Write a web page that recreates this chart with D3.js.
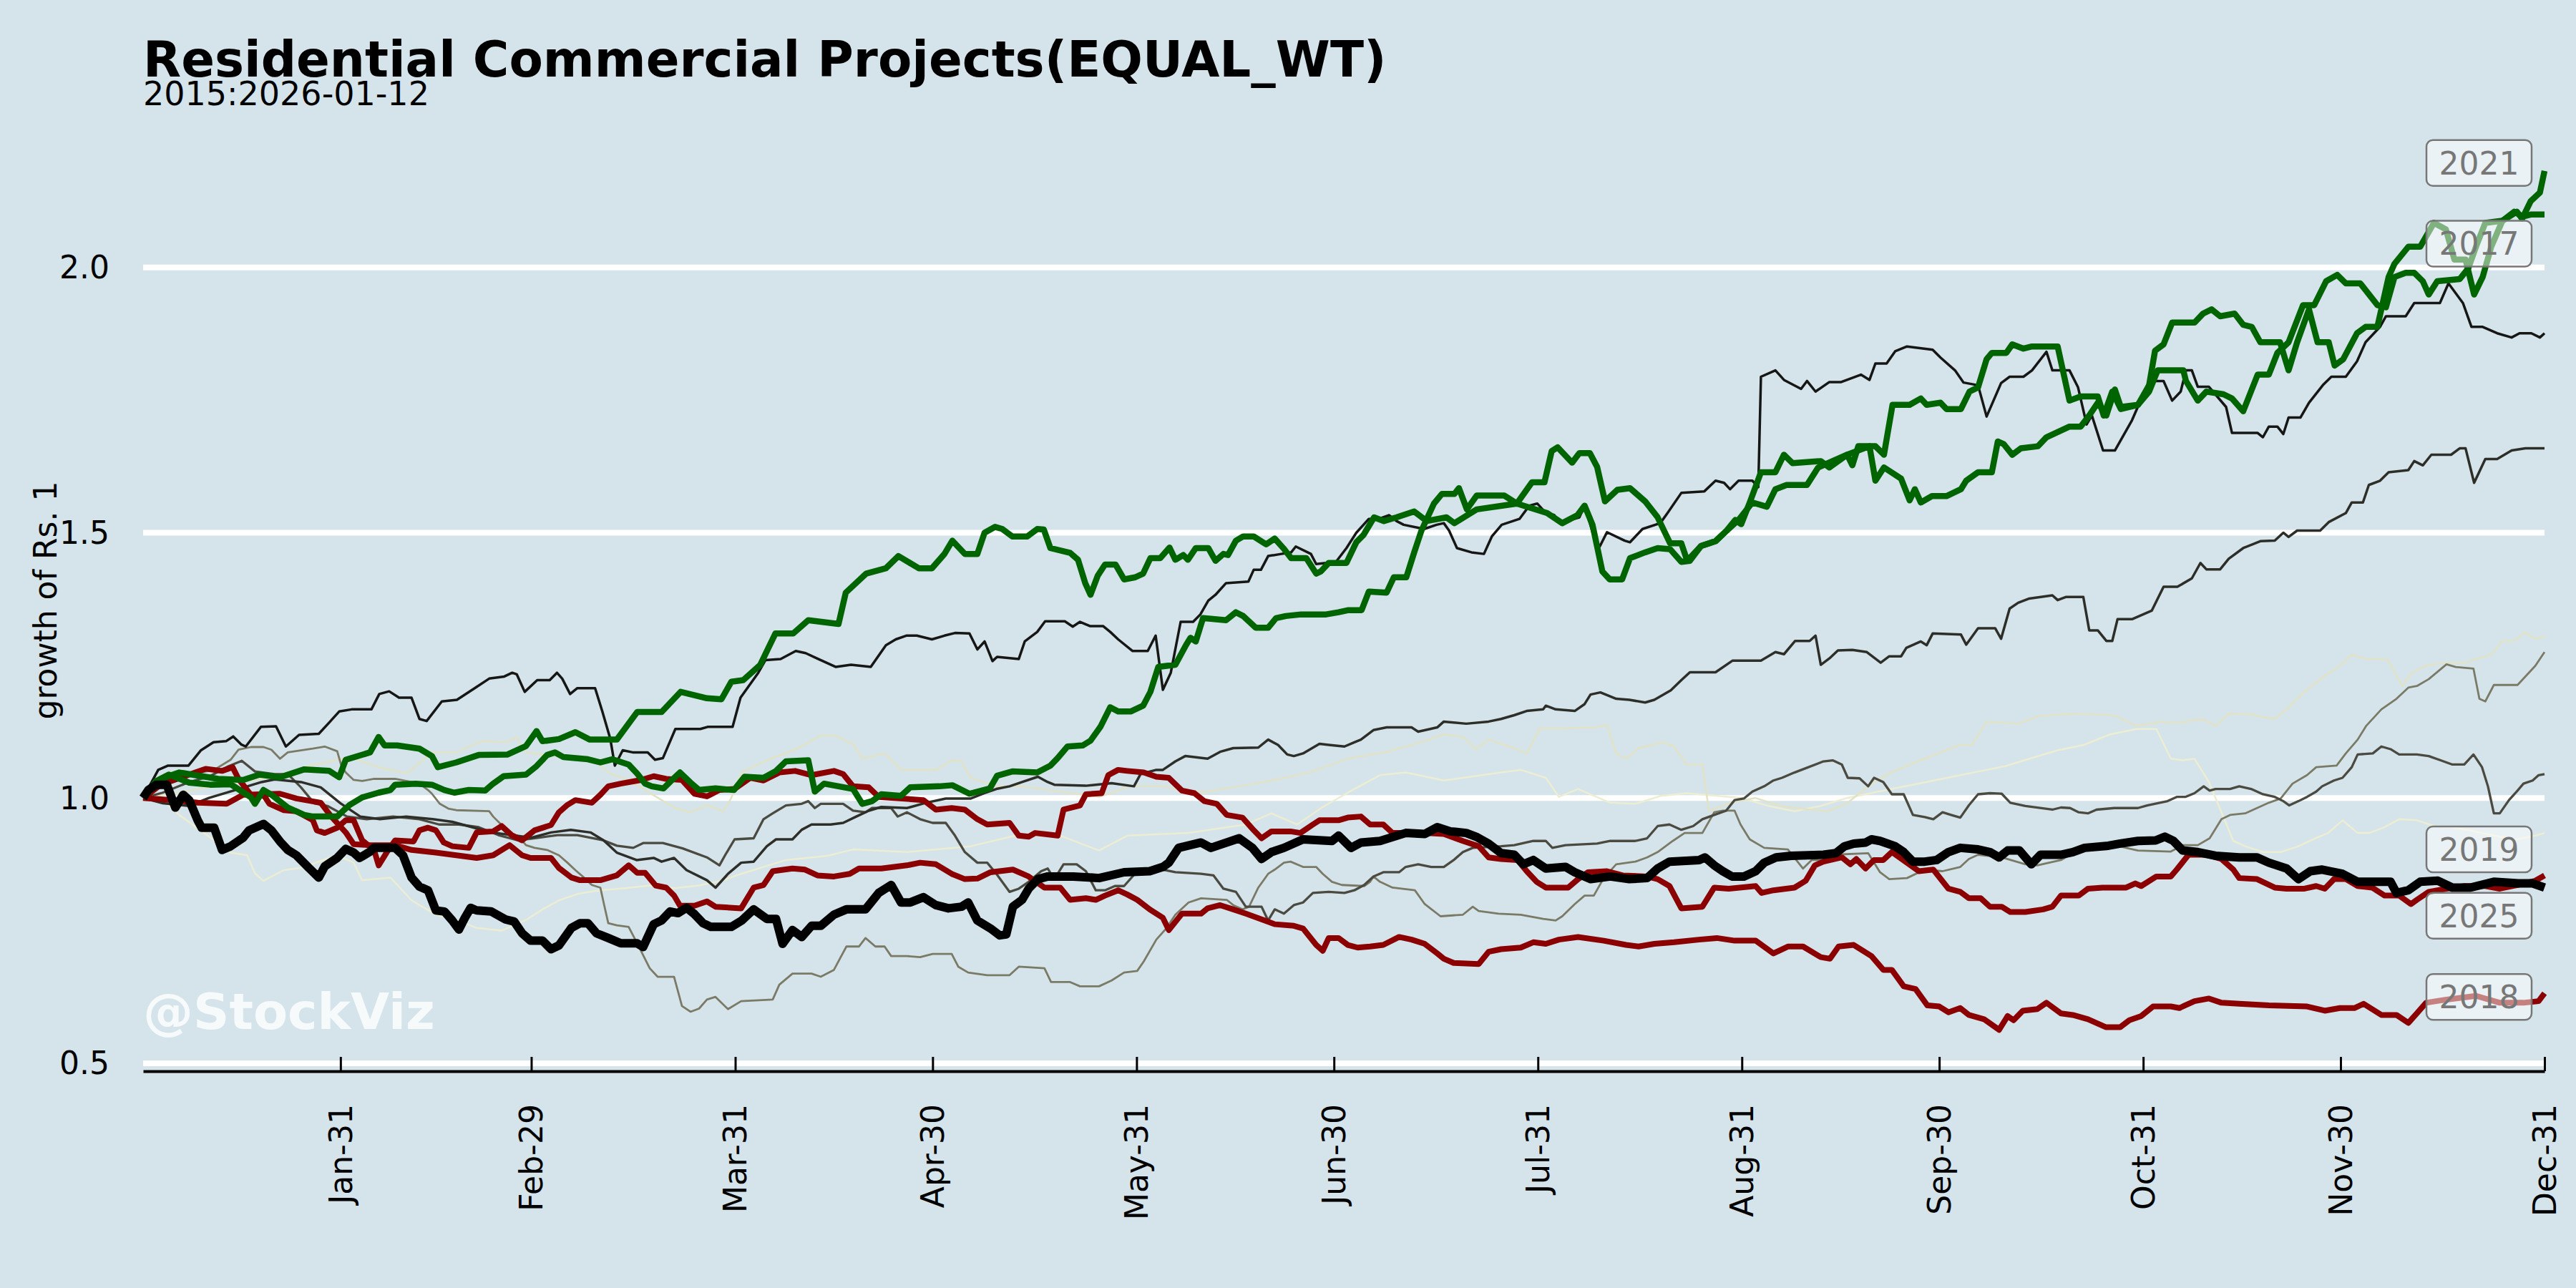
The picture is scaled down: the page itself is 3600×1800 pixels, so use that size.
<!DOCTYPE html>
<html>
<head>
<meta charset="utf-8">
<script src="https://cdn.jsdelivr.net/npm/d3@7"></script>
<style>
body{margin:0;background:#d5e4eb;}
svg{display:block;font-family:"DejaVu Sans",sans-serif;}
</style>
</head>
<body>
<svg id="chart"></svg>
<script>
// x = day of year (0 = Jan-1), value = growth of Rs. 1
var tickDays=[30,59,90,120,151,181,212,243,273,304,334,365];
var tickLabels=["Jan-31","Feb-29","Mar-31","Apr-30","May-31","Jun-30","Jul-31","Aug-31","Sep-30","Oct-31","Nov-30","Dec-31"];
var yTicks=[0.5,1.0,1.5,2.0];

var y2015=[[0,1.0],[2,1.006],[5.5,0.968],[10.8,0.92],[13.3,0.897],[15.8,0.892],[17,0.858],[18.3,0.844],[21.4,0.864],[23.9,0.868],[29.5,0.892],[32,0.878],[33.3,0.845],[37.6,0.85],[40.8,0.807],[44.5,0.78],[47.6,0.77],[50.7,0.755],[54.5,0.75],[58.2,0.77],[60.7,0.79],[63.2,0.807],[66.3,0.82],[69.5,0.826],[73.2,0.83],[77,0.835],[80.7,0.83],[84.5,0.835],[88.2,0.845],[90.9,0.857],[97.7,0.883],[104,0.891],[107.9,0.903],[116.1,0.898],[125.8,0.909],[132.6,0.929],[139.4,0.929],[145.3,0.901],[149.6,0.929],[158.9,0.934],[167.6,0.95],[171.5,0.971],[175.4,0.95],[179.3,0.983],[184.1,1.017],[188,1.043],[191.9,1.048],[197.7,1.033],[206.4,1.048],[209.4,1.053],[213.2,1.038],[215.2,1.002],[218.1,1.017],[223,0.991],[226.8,0.989],[230.7,1.004],[234.6,1.009],[239.3,1.004],[243,1.0],[247,0.985],[251,0.975],[255,0.985],[259,1.0],[263,1.01],[267,1.02],[271,1.03],[275,1.04],[279,1.05],[283,1.06],[287,1.075],[291,1.09],[295,1.1],[299,1.12],[303,1.13],[306,1.13],[308.2,1.074],[310,1.071],[311.8,1.074],[314,1.03],[316,0.97],[317.7,0.919],[319.5,0.909],[322.2,0.898],[324.9,0.898],[327.6,0.909],[329.8,0.922],[332.1,0.934],[334.3,0.958],[336.6,0.934],[338.4,0.934],[340.7,0.945],[342.9,0.96],[345.6,0.958],[348.3,0.947],[351,0.945],[353.3,0.94],[355.5,0.934],[358.2,0.927],[360.9,0.922],[363.6,0.929],[365,0.934]];

var y2016=[[0,1.0],[5,1.01],[10,1.02],[15,1.03],[20,1.04],[25,1.06],[31.4,1.077],[35.8,1.058],[40.1,1.046],[43.9,1.086],[47.6,1.086],[51.4,1.107],[55.4,1.105],[56.7,1.115],[58.2,1.086],[61.4,1.081],[68.2,1.072],[71.3,1.044],[73.8,1.034],[78.8,0.996],[80.7,0.982],[83.2,0.973],[85.7,0.987],[88.2,0.975],[89.4,1.0],[90.9,1.048],[94.8,1.071],[99.6,1.094],[103,1.118],[105,1.118],[107.9,1.102],[109.3,1.074],[112.7,1.084],[115.2,1.053],[120.5,1.053],[122.9,1.071],[124.4,1.069],[125.8,1.038],[129.7,1.022],[133.6,1.022],[139.4,1.012],[145.3,1.002],[150.1,1.022],[155,1.022],[158.9,1.012],[161.8,1.012],[166.6,1.022],[171.5,1.033],[177.3,1.048],[183.1,1.074],[189,1.087],[194.8,1.107],[197.7,1.12],[200.6,1.115],[202.6,1.092],[204.5,1.11],[208.4,1.094],[210.3,1.084],[212.3,1.131],[215.2,1.131],[221,1.133],[222.5,1.138],[223.9,1.084],[225.4,1.074],[227.3,1.094],[231.1,1.105],[232.7,1.097],[234.6,1.063],[237,1.063],[238,0.976],[241,0.99],[245,1.0],[249,0.985],[252,0.98],[256,0.975],[259,0.99],[262.7,1.027],[266,1.05],[269,1.065],[272,1.08],[276,1.1],[278,1.1],[280.2,1.144],[285,1.14],[288,1.154],[293,1.159],[299.6,1.156],[303,1.136],[306.8,1.144],[309,1.141],[313,1.149],[315,1.136],[317,1.159],[320,1.158],[324,1.149],[325.8,1.167],[328.5,1.2],[331,1.225],[333.9,1.249],[335.7,1.27],[338,1.262],[341.1,1.262],[343.4,1.211],[344.7,1.234],[347,1.25],[350,1.255],[353,1.255],[357,1.271],[358.6,1.296],[360.4,1.296],[362,1.312],[363.6,1.3],[365,1.304]];

var y2017=[[0,1.0],[2,1.032],[3.9,1.044],[7,1.029],[10.2,1.025],[13.3,1.026],[16.4,1.001],[17,0.989],[18.3,1.015],[19.5,1.006],[22,0.982],[24.5,0.968],[25.8,0.965],[29.5,0.965],[30.5,0.977],[31.4,0.987],[33.3,1.001],[35.8,1.01],[37.6,1.015],[38.3,1.025],[41.4,1.027],[43.9,1.025],[45.8,1.015],[47.3,1.01],[49.5,1.015],[52,1.014],[53.2,1.027],[54.8,1.041],[58.2,1.044],[59.8,1.06],[61.4,1.081],[62.6,1.086],[63.9,1.077],[67.6,1.073],[69.5,1.067],[71.3,1.073],[73.8,1.063],[75.1,1.046],[76.3,1.027],[77.3,1.022],[79.1,1.018],[80.4,1.034],[81.6,1.048],[83.2,1.029],[84.5,1.015],[87,1.018],[89.8,1.015],[91.4,1.04],[94.3,1.038],[96.2,1.051],[97.7,1.069],[101.1,1.071],[102.1,1.012],[103.5,1.027],[107.9,1.017],[109.3,0.989],[110.8,0.994],[112.2,1.007],[115.2,1.004],[116.6,1.02],[121,1.022],[123,1.024],[125.6,1.008],[128.7,1.018],[129.8,1.042],[132.1,1.05],[135.9,1.048],[137.9,1.061],[139,1.075],[140.5,1.097],[142.8,1.099],[144,1.108],[145.5,1.134],[147,1.171],[148.2,1.163],[150.1,1.163],[152,1.174],[153.1,1.2],[154.3,1.247],[156.9,1.251],[158.5,1.288],[159.2,1.302],[160,1.295],[161.1,1.339],[164.6,1.335],[166.1,1.35],[167.2,1.343],[169.1,1.321],[171,1.321],[172.2,1.339],[173.7,1.343],[176,1.346],[179.8,1.346],[181.7,1.35],[183.2,1.354],[185.2,1.354],[186.3,1.389],[189,1.387],[190.1,1.416],[192,1.416],[193.2,1.463],[194.3,1.504],[196.2,1.555],[197.4,1.573],[199.3,1.573],[200,1.584],[201.2,1.544],[202.7,1.57],[206.9,1.57],[208.8,1.555],[211.1,1.595],[213,1.595],[214.1,1.654],[215,1.661],[217.2,1.632],[218.3,1.65],[219.9,1.65],[221,1.624],[222.2,1.559],[224.1,1.581],[226,1.584],[228.3,1.559],[230.2,1.529],[232.1,1.48],[233.8,1.48],[234.7,1.447],[236.8,1.475],[239,1.484],[240.7,1.504],[242,1.524],[242.9,1.516],[244.2,1.557],[245.9,1.614],[248.1,1.614],[249.4,1.647],[250.7,1.631],[255,1.635],[256.3,1.623],[259,1.647],[259.8,1.627],[260.7,1.663],[263.3,1.663],[264.6,1.647],[265.9,1.741],[268.5,1.741],[270.2,1.753],[271.1,1.741],[273.2,1.745],[274.1,1.733],[276.3,1.733],[277.6,1.766],[278.9,1.774],[280.2,1.827],[281,1.839],[283.2,1.839],[284.1,1.855],[285.8,1.847],[287.1,1.851],[291,1.851],[292.8,1.749],[294.5,1.757],[297.1,1.757],[298,1.721],[299.3,1.766],[300.6,1.733],[303.2,1.741],[304.9,1.766],[306.2,1.806],[310.1,1.806],[310.5,1.786],[312.3,1.749],[313.6,1.766],[316.2,1.761],[317.5,1.753],[319.2,1.729],[321.4,1.798],[323.1,1.798],[324.4,1.839],[326.1,1.859],[328.3,1.929],[330,1.929],[331.8,1.974],[333.5,1.986],[334.8,1.97],[337,1.97],[339.6,1.929],[340.9,1.925],[342.2,1.982],[343.9,1.99],[345.2,1.99],[346.5,1.974],[347.4,1.949],[348.7,1.974],[352.1,1.978],[353.4,1.998],[354.7,2.043],[356,2.084],[358.6,2.088],[360.4,2.105],[361.7,2.096],[363,2.1],[365,2.1]];

var y2018=[[0,1.0],[4.6,0.996],[8.3,0.991],[12.7,0.989],[15.2,1.006],[20.8,1.008],[23.3,0.999],[27,0.991],[28.6,0.965],[30.8,0.935],[32,0.913],[34.5,0.911],[38.3,0.911],[40.8,0.902],[44.5,0.897],[47.6,0.892],[50.7,0.887],[53.2,0.892],[55.7,0.911],[57.6,0.892],[58.9,0.887],[62,0.887],[63.2,0.868],[65.1,0.85],[66.4,0.845],[69.5,0.845],[72,0.854],[73.8,0.873],[75.1,0.859],[76.3,0.859],[77.9,0.835],[79.5,0.831],[80.7,0.816],[81.6,0.797],[83.8,0.797],[85.7,0.805],[87,0.795],[90.9,0.792],[92.8,0.831],[94.3,0.836],[95.7,0.862],[98.7,0.867],[100.6,0.865],[102.5,0.854],[105,0.852],[107.4,0.857],[108.8,0.867],[112.2,0.867],[116.1,0.873],[118.1,0.878],[120.5,0.875],[122.9,0.857],[124.9,0.847],[126.8,0.848],[128.8,0.86],[132.2,0.865],[134.6,0.852],[137,0.831],[139.4,0.831],[140.9,0.808],[143.3,0.811],[144.8,0.808],[146.2,0.816],[148.2,0.826],[149.6,0.818],[151.1,0.808],[153,0.79],[155,0.774],[155.9,0.751],[157.9,0.782],[160.8,0.782],[161.8,0.792],[163.7,0.798],[165.7,0.79],[167.6,0.782],[170.5,0.769],[172,0.762],[174.9,0.759],[176.3,0.754],[178.3,0.723],[179.3,0.712],[180.2,0.736],[181.7,0.736],[183.1,0.723],[184.6,0.718],[186.5,0.72],[188.5,0.723],[190.9,0.738],[192.8,0.733],[194.8,0.725],[196.7,0.707],[197.7,0.697],[199.2,0.689],[203,0.687],[204.5,0.71],[206.4,0.715],[209.4,0.718],[211.3,0.728],[213.2,0.725],[215.2,0.733],[218.1,0.738],[222,0.731],[225.4,0.723],[227.3,0.72],[229.7,0.725],[232.7,0.728],[236.5,0.733],[239.2,0.736],[241.9,0.731],[245.1,0.731],[247.8,0.707],[250,0.72],[252.3,0.72],[255,0.7],[256.4,0.697],[257.7,0.72],[260,0.723],[262.7,0.702],[264.5,0.676],[265.8,0.676],[267.6,0.645],[269.4,0.64],[271.2,0.609],[273,0.607],[274.4,0.596],[276.2,0.604],[277.5,0.591],[279.8,0.583],[282.1,0.563],[283.4,0.589],[284.3,0.581],[285.7,0.599],[287.9,0.602],[289.3,0.614],[291.5,0.594],[293.3,0.591],[295.6,0.583],[298.3,0.568],[300.5,0.568],[301.9,0.581],[303.7,0.589],[305.5,0.607],[308.2,0.607],[309.5,0.604],[311.8,0.617],[314,0.622],[315.9,0.614],[318.6,0.612],[323.1,0.609],[328.9,0.607],[331.6,0.599],[333.9,0.604],[336.1,0.604],[337.5,0.612],[340.2,0.591],[342.5,0.591],[344.3,0.576],[345.6,0.594],[347,0.614],[350.1,0.62],[354.6,0.627],[358.2,0.614],[361.8,0.614],[364.1,0.617],[365,0.632]];

var y2019=[[0,1.0],[2.7,1.025],[7,1.044],[9.5,1.055],[12,1.051],[13.6,1.058],[14.5,1.036],[15.8,1.015],[16.7,1.001],[18.3,1.006],[19.2,0.989],[21.4,0.977],[23.3,0.975],[25.8,0.958],[26.4,0.939],[27.6,0.934],[29.5,0.944],[30.8,0.958],[32,0.958],[33.3,0.92],[35.1,0.902],[35.8,0.873],[37,0.897],[38.3,0.92],[41.1,0.918],[42,0.939],[43.3,0.944],[44.5,0.939],[45.7,0.916],[47,0.909],[49.5,0.906],[50.7,0.935],[53.2,0.937],[54.5,0.947],[56,0.93],[57.6,0.92],[59.5,0.939],[62,0.949],[63.2,0.973],[64.5,0.987],[65.7,0.996],[68.2,0.991],[69.5,1.006],[70.7,1.022],[72.6,1.027],[75.7,1.034],[77.6,1.041],[79.5,1.036],[81.9,1.034],[83.8,1.008],[85.7,1.003],[87.6,1.015],[89.9,1.017],[92.3,1.038],[94.3,1.033],[96.7,1.048],[99.1,1.051],[101.6,1.043],[105,1.051],[106.4,1.045],[107.9,1.022],[110.3,1.02],[111.8,1.002],[118.6,0.996],[120.5,0.978],[122.9,0.981],[124.9,0.978],[126.8,0.96],[128.3,0.95],[131.7,0.953],[133.1,0.929],[134.6,0.927],[135.6,0.934],[139,0.929],[139.9,0.978],[142.4,0.986],[143.3,1.007],[145.7,1.009],[146.7,1.043],[148.2,1.053],[149.6,1.051],[152.1,1.048],[154,1.04],[155.9,1.038],[157.9,1.014],[159.8,1.009],[161.3,0.994],[163.2,0.989],[164.7,0.968],[167.1,0.963],[168.6,0.942],[170,0.924],[171.5,0.937],[174.4,0.937],[175.9,0.934],[177.8,0.95],[178.8,0.958],[181.7,0.958],[183.1,0.963],[185.1,0.965],[186.5,0.95],[188.5,0.95],[189.9,0.934],[194.8,0.934],[197.7,0.932],[200.6,0.919],[203,0.909],[204.5,0.888],[206.4,0.885],[208.9,0.883],[210.3,0.862],[211.8,0.842],[213.2,0.831],[216.6,0.831],[218.1,0.847],[219.6,0.86],[222.5,0.862],[224.9,0.854],[228.6,0.852],[230.2,0.847],[232,0.834],[233.8,0.792],[237,0.795],[238.8,0.831],[241,0.829],[245.1,0.834],[246,0.821],[247.8,0.826],[251,0.831],[252.7,0.844],[254.1,0.873],[255.4,0.88],[258.2,0.888],[259.5,0.875],[260.4,0.885],[261.8,0.867],[263.1,0.883],[264.5,0.883],[265.8,0.898],[268.1,0.878],[269.9,0.862],[272.1,0.865],[274.4,0.829],[276.2,0.823],[277.5,0.811],[279.3,0.811],[280.7,0.795],[282.5,0.795],[283.8,0.785],[286.1,0.785],[288.8,0.79],[290.2,0.795],[291.5,0.816],[294.2,0.816],[295.6,0.829],[297.8,0.831],[301.4,0.831],[302.8,0.839],[303.7,0.834],[306,0.852],[308.2,0.852],[309.1,0.865],[310.9,0.893],[313.6,0.893],[315.9,0.885],[317.7,0.865],[318.6,0.849],[321.3,0.847],[324,0.831],[325.8,0.829],[328.5,0.829],[330.3,0.834],[331.6,0.829],[333,0.847],[334.8,0.847],[336.6,0.834],[338.8,0.831],[340.7,0.816],[342.9,0.816],[344.7,0.8],[345.6,0.808],[347.4,0.823],[350.1,0.829],[352.8,0.834],[356,0.834],[358.2,0.829],[360.9,0.836],[363.6,0.844],[365,0.854]];

var y2020=[[0,1.0],[3.3,1.034],[7,1.044],[10.8,1.053],[13.3,1.072],[14.5,1.091],[16.4,1.096],[18.3,1.096],[19.5,1.091],[20.8,1.074],[22,1.086],[25.8,1.093],[27.6,1.097],[29.5,1.088],[30.1,1.062],[30.8,1.048],[32,1.034],[33.3,1.032],[35.1,1.036],[38.3,1.036],[40.8,1.03],[42,1.027],[43.3,1.015],[43.9,1.008],[45.1,0.989],[46.4,0.98],[47.6,0.977],[52.6,0.975],[53.2,0.965],[54.5,0.949],[55.7,0.935],[57,0.928],[58.2,0.911],[59.5,0.906],[61.4,0.902],[63.2,0.892],[64.5,0.878],[65.7,0.864],[67,0.85],[68.2,0.836],[69.5,0.831],[70.1,0.797],[70.7,0.764],[72,0.76],[73.8,0.757],[75.1,0.726],[77,0.679],[78.2,0.663],[80.7,0.663],[81.9,0.608],[83.2,0.597],[84.5,0.603],[85.7,0.62],[87,0.625],[88.9,0.602],[90.9,0.617],[95.7,0.62],[96.7,0.648],[98.7,0.669],[101.6,0.669],[103,0.663],[105,0.676],[105.9,0.697],[106.9,0.72],[108.8,0.72],[109.8,0.736],[111.3,0.72],[112.7,0.72],[113.7,0.702],[116.1,0.702],[118.1,0.7],[120,0.706],[122.9,0.706],[123.9,0.682],[125.4,0.671],[128.3,0.666],[131.7,0.666],[133.1,0.682],[137,0.679],[138,0.653],[140.9,0.653],[142.4,0.645],[145.3,0.645],[147.2,0.656],[149.1,0.671],[151.1,0.674],[152.1,0.692],[154,0.733],[155.5,0.754],[156.9,0.78],[158.9,0.803],[160.8,0.811],[164.7,0.808],[165.7,0.798],[167.1,0.79],[168.1,0.795],[169.5,0.831],[171,0.857],[172,0.865],[173.4,0.878],[174.4,0.88],[176.3,0.87],[178.3,0.87],[179.3,0.857],[180.7,0.842],[182.2,0.836],[185.6,0.834],[186.5,0.842],[187,0.852],[188,0.842],[189.9,0.831],[193.3,0.826],[194.8,0.8],[197.2,0.777],[200.6,0.78],[202.1,0.795],[203,0.787],[206,0.782],[209.4,0.78],[212.8,0.772],[214.7,0.769],[215.7,0.777],[217.6,0.8],[219.1,0.816],[220.5,0.816],[222,0.849],[223.9,0.875],[226.8,0.88],[228.6,0.888],[230.2,0.898],[232.5,0.919],[234.3,0.934],[237,0.934],[238.8,0.973],[240.1,0.976],[241.9,0.976],[242.8,0.95],[244.2,0.922],[246.4,0.906],[250,0.903],[252.3,0.867],[253.6,0.883],[255.4,0.883],[256.8,0.893],[262.2,0.896],[264,0.86],[265.4,0.847],[268.1,0.849],[270.8,0.865],[273.5,0.862],[276.2,0.87],[277.5,0.885],[278.9,0.893],[282.5,0.888],[286.1,0.875],[287.9,0.873],[291.5,0.883],[295.1,0.909],[299.6,0.911],[303.2,0.901],[308.2,0.899],[310,0.911],[312.3,0.911],[314.1,0.924],[315.9,0.96],[317.2,0.968],[319.5,0.971],[323.1,0.991],[324.9,0.999],[326.7,1.027],[328.9,1.043],[330.3,1.058],[333.4,1.061],[334.8,1.084],[336.6,1.11],[337.9,1.136],[340.2,1.167],[342.5,1.187],[344.3,1.208],[345.6,1.211],[347.4,1.224],[350.1,1.252],[351.5,1.247],[354.2,1.244],[355.1,1.187],[356,1.182],[357.3,1.213],[360.9,1.213],[363.6,1.249],[365,1.275]];

var y2021=[[0,1.0],[2.7,1.036],[5.5,1.048],[11.4,1.036],[15.2,1.034],[17.7,1.044],[20.8,1.039],[24.5,1.054],[28.3,1.051],[29.8,1.039],[30.8,1.072],[34.5,1.086],[35.8,1.115],[36.7,1.099],[38.6,1.099],[42,1.093],[43.9,1.079],[44.8,1.058],[47.6,1.067],[51,1.081],[55.4,1.082],[58.2,1.098],[59.8,1.126],[60.7,1.107],[63.2,1.111],[65.7,1.124],[67.9,1.11],[72,1.11],[75.1,1.162],[78.8,1.162],[81.7,1.2],[85.7,1.188],[87.9,1.186],[89.4,1.219],[91.2,1.222],[93.8,1.251],[96.1,1.31],[98.8,1.31],[101.1,1.335],[105.7,1.328],[106.8,1.387],[109.9,1.423],[112.9,1.433],[114.8,1.456],[117.9,1.433],[119.9,1.433],[121.8,1.46],[123,1.485],[124.9,1.46],[126.8,1.46],[127.9,1.5],[129.5,1.511],[130.6,1.507],[132.1,1.493],[134.4,1.493],[135.9,1.507],[136.9,1.506],[137.9,1.471],[140.9,1.462],[142.1,1.449],[143.2,1.405],[144,1.383],[145.1,1.419],[146.2,1.44],[147.8,1.44],[149.1,1.412],[150.8,1.416],[152,1.423],[153.1,1.452],[154.6,1.452],[156,1.472],[156.9,1.449],[158.1,1.458],[158.8,1.449],[160,1.471],[161.9,1.471],[163,1.447],[164.2,1.46],[164.9,1.458],[166.1,1.485],[167.2,1.493],[168.8,1.493],[170.7,1.478],[172,1.489],[173.3,1.471],[174.5,1.452],[176.8,1.452],[178.3,1.423],[179,1.427],[180.2,1.443],[182.9,1.443],[184.4,1.482],[185.5,1.496],[187.1,1.529],[188.6,1.522],[190.5,1.529],[193.2,1.54],[195.1,1.522],[198.1,1.529],[199.3,1.518],[202.7,1.544],[208.8,1.555],[213.4,1.537],[215.7,1.518],[218,1.533],[219.1,1.551],[220.3,1.515],[221.8,1.427],[222.9,1.412],[224.8,1.412],[226,1.452],[228.3,1.463],[230.2,1.471],[232.1,1.469],[233.8,1.445],[235.1,1.447],[236.8,1.475],[239,1.484],[240.7,1.504],[242.5,1.524],[244.6,1.557],[246.8,1.549],[248.1,1.582],[249.8,1.59],[252.9,1.59],[254.6,1.623],[259,1.647],[262.4,1.663],[263.3,1.598],[264.6,1.623],[267.2,1.602],[268.5,1.561],[269.3,1.582],[270.2,1.557],[271.9,1.569],[274.1,1.569],[276.3,1.582],[277.1,1.598],[278.9,1.614],[281,1.614],[281.9,1.672],[282.8,1.667],[284.1,1.647],[285.4,1.659],[288,1.663],[289.3,1.68],[292.8,1.7],[294.5,1.7],[295.8,1.721],[297.1,1.745],[298.4,1.721],[299.7,1.77],[300.6,1.737],[303.2,1.741],[304.9,1.778],[305.8,1.843],[307.1,1.855],[308.4,1.896],[311.8,1.896],[313.1,1.913],[314.4,1.921],[315.7,1.908],[317.9,1.913],[319.2,1.892],[320.5,1.888],[321.8,1.859],[324.8,1.859],[326.1,1.806],[327.4,1.859],[329.2,1.921],[330.5,1.859],[332.2,1.859],[333.1,1.815],[334.4,1.827],[336.5,1.876],[337.8,1.888],[339.6,1.888],[341.3,1.982],[342.2,2.007],[344.3,2.039],[346.1,2.039],[348.2,2.084],[350,2.072],[351.3,2.015],[353,2.015],[354.3,1.949],[355.6,1.982],[356.9,2.039],[358.6,2.088],[360.8,2.105],[361.6,2.092],[362.9,2.125],[364.3,2.141],[365,2.182]];

var y2022=[[0,1.0],[3,1.01],[7,1.03],[10,1.04],[13,1.06],[15,1.07],[17,1.05],[20,1.045],[22,1.045],[24,1.02],[26,0.99],[28,0.985],[31,0.965],[34,0.96],[38,0.965],[42,0.96],[45,0.95],[48,0.95],[51,0.945],[54,0.93],[57,0.92],[60,0.925],[63,0.93],[66,0.93],[70,0.92],[72,0.91],[74.5,0.906],[76,0.915],[79,0.915],[82,0.905],[85.7,0.888],[87.6,0.873],[88.5,0.893],[89.9,0.922],[92.8,0.924],[94.3,0.96],[95.7,0.971],[97.7,0.986],[100.1,0.989],[101.1,0.994],[102.1,0.981],[103,0.989],[106.4,0.989],[107.9,0.976],[109.8,0.973],[110.8,0.981],[113.7,0.981],[114.7,0.965],[116.1,0.973],[118.1,0.96],[120,0.953],[122,0.953],[123.4,0.929],[124.9,0.898],[126.8,0.878],[128.3,0.878],[129.7,0.857],[131.7,0.823],[133.1,0.829],[134.6,0.842],[136.5,0.862],[137.5,0.867],[138.5,0.847],[139.9,0.875],[141.9,0.875],[143.3,0.862],[144.8,0.826],[146.2,0.826],[147.7,0.834],[149.1,0.834],[151.1,0.862],[155,0.865],[156.9,0.86],[160.8,0.857],[162.7,0.854],[164.2,0.829],[166.1,0.823],[167.6,0.795],[170,0.795],[171,0.769],[172,0.79],[173.4,0.782],[174.9,0.798],[176.3,0.803],[177.8,0.821],[180.2,0.823],[182.6,0.821],[184.1,0.826],[185.6,0.836],[187,0.852],[188.5,0.86],[190.9,0.86],[191.9,0.87],[193.8,0.875],[195.8,0.87],[197.7,0.87],[199.2,0.883],[200.6,0.898],[202.1,0.906],[206.4,0.909],[208.4,0.911],[211.3,0.919],[213.2,0.919],[214.2,0.906],[216.2,0.911],[221,0.914],[223,0.919],[226.8,0.919],[228.6,0.924],[230.2,0.947],[232,0.95],[233.8,0.94],[235.6,0.947],[237,0.96],[238.8,0.968],[240.6,0.976],[241.9,0.996],[243.3,0.999],[244.6,1.012],[246.4,1.022],[247.8,1.033],[249.1,1.038],[251,1.048],[252.7,1.056],[255.4,1.069],[256.8,1.071],[258.2,1.063],[259.1,1.038],[260.9,1.037],[262.2,1.022],[263.1,1.038],[264.5,1.03],[265.8,1.007],[267.6,1.007],[269,0.968],[270.8,0.964],[272.1,0.96],[273.5,0.973],[274.8,0.968],[276.2,0.963],[277.5,0.986],[278.9,1.007],[280.7,1.009],[282.5,1.008],[283.8,0.991],[286.1,0.985],[290.2,0.978],[291.5,0.982],[292.9,0.981],[294.2,0.973],[295.6,0.971],[296.9,0.978],[299.6,0.981],[303.2,0.981],[304.6,0.986],[307.7,0.994],[309.1,1.002],[310.4,1.002],[311.8,1.009],[313.2,1.022],[314.1,1.014],[315,1.017],[317.2,1.017],[318.6,1.022],[320.4,1.017],[322.2,1.007],[324,1.002],[325.3,0.994],[326.2,0.986],[327.6,0.994],[328.9,1.002],[330.3,1.012],[331.2,1.022],[333,1.033],[334.3,1.038],[335.7,1.058],[336.6,1.082],[338.9,1.084],[340.2,1.097],[341.6,1.092],[342.9,1.082],[345.6,1.082],[347.4,1.079],[349.2,1.071],[351,1.063],[352.8,1.063],[354.2,1.082],[355.5,1.058],[356.4,1.022],[357.3,0.971],[358.2,0.971],[359.6,0.996],[360.9,1.014],[361.8,1.027],[363.2,1.033],[364.1,1.043],[365,1.045]];

var y2023=[[0,1.0],[3,0.99],[7,0.985],[10,1.0],[14,1.015],[18,1.03],[20,1.035],[24,1.03],[27,1.02],[30,0.99],[33,0.965],[36,0.96],[40,0.965],[44,0.96],[47,0.955],[50,0.945],[53,0.935],[56,0.93],[59,0.925],[62,0.935],[65,0.94],[68,0.935],[70,0.92],[72,0.897],[75,0.883],[77.6,0.887],[78.8,0.88],[80.7,0.887],[82.6,0.864],[85.7,0.845],[87,0.831],[88.9,0.857],[90.9,0.878],[92.8,0.88],[94.8,0.909],[96.2,0.922],[98.7,0.922],[100.1,0.94],[101.6,0.95],[104.5,0.95],[106.4,0.953],[108.4,0.965],[110.3,0.976],[112.2,0.983],[116.1,0.981],[119,0.991],[122,0.999],[125.8,0.999],[127.8,1.009],[129.7,1.017],[131.7,1.022],[133.6,1.03],[136,1.04],[137.5,1.03],[138.5,1.025],[143.3,1.023],[147.2,1.028],[150.6,1.022],[151.6,1.045],[154,1.053],[155,1.053],[156.9,1.069],[158.4,1.079],[161.8,1.074],[163.7,1.087],[165.7,1.094],[169.5,1.095],[171,1.11],[172.5,1.1],[173.9,1.082],[174.9,1.079],[176.3,1.084],[178.8,1.102],[180.2,1.1],[182.6,1.097],[184.1,1.105],[185.1,1.11],[187,1.128],[189,1.133],[192.8,1.133],[193.8,1.125],[196.7,1.133],[197.7,1.144],[201.1,1.14],[204.5,1.144],[206.4,1.149],[208.4,1.156],[210.3,1.164],[212.8,1.167],[213.2,1.174],[214.7,1.167],[217.6,1.164],[219.1,1.177],[220,1.195],[221.5,1.199],[223.9,1.187],[225.9,1.185],[228.3,1.18],[229.7,1.185],[232.2,1.203],[233.8,1.222],[235.1,1.237],[239,1.237],[241.6,1.259],[245.9,1.259],[248.1,1.275],[249.4,1.271],[251.1,1.296],[253.3,1.296],[254.2,1.306],[255,1.251],[256.3,1.263],[257.6,1.278],[259.8,1.279],[262,1.275],[264.1,1.255],[265.4,1.267],[267.2,1.267],[268,1.283],[270.2,1.295],[271.1,1.288],[272,1.31],[276.3,1.308],[277.1,1.289],[278.9,1.32],[281.5,1.32],[282.4,1.3],[283.7,1.357],[285,1.368],[286.7,1.376],[290.2,1.382],[291,1.373],[292.3,1.379],[294.9,1.379],[295.8,1.316],[297.1,1.316],[298.4,1.296],[299.3,1.296],[300.1,1.337],[302.3,1.337],[305.3,1.353],[307.1,1.398],[309.2,1.398],[311.4,1.414],[312.7,1.443],[313.6,1.431],[315.7,1.431],[317,1.451],[319.2,1.471],[321.8,1.484],[324,1.485],[325.3,1.5],[326.1,1.492],[327.4,1.504],[330.9,1.504],[332.2,1.52],[334.8,1.537],[335.7,1.557],[337.4,1.557],[338.3,1.59],[340,1.598],[341.3,1.614],[344.3,1.618],[345.2,1.635],[346.5,1.627],[347.8,1.647],[350.8,1.647],[352.1,1.659],[353,1.659],[354.3,1.594],[356,1.639],[357.8,1.639],[360,1.655],[362.1,1.659],[365,1.659]];

var y2024=[[0,1.0],[2.3,1.053],[3.8,1.061],[6.9,1.061],[8.8,1.09],[10.7,1.105],[12.6,1.107],[13.7,1.116],[14.9,1.101],[15.6,1.097],[17.9,1.134],[20.2,1.135],[21.7,1.097],[23.7,1.119],[26.7,1.121],[28.2,1.141],[29.8,1.163],[31.7,1.167],[34.7,1.167],[35.9,1.196],[37.4,1.201],[38.9,1.189],[40.8,1.189],[42,1.149],[43.1,1.145],[45.4,1.182],[47.7,1.185],[50.4,1.207],[52.6,1.225],[54.9,1.229],[56.1,1.236],[56.8,1.233],[58,1.2],[59.9,1.222],[61.8,1.222],[62.9,1.236],[63.7,1.225],[64.9,1.196],[66,1.207],[68.7,1.207],[69.8,1.163],[71,1.112],[71.7,1.061],[72.9,1.09],[74.4,1.086],[76.7,1.086],[77.8,1.072],[79,1.075],[80.9,1.13],[84.7,1.13],[85.8,1.134],[89.6,1.134],[90.8,1.189],[93.5,1.236],[94.6,1.26],[96.9,1.262],[99.2,1.277],[100.7,1.273],[102.6,1.262],[105.3,1.247],[107.6,1.251],[110.6,1.247],[112.9,1.288],[114.4,1.299],[116,1.306],[117.6,1.306],[119.9,1.299],[121.8,1.306],[123.4,1.311],[125.6,1.31],[126.8,1.28],[127.9,1.295],[129.1,1.258],[129.8,1.266],[133.1,1.262],[134,1.295],[135.9,1.313],[137.1,1.333],[140.1,1.333],[141.3,1.323],[142.4,1.332],[143.9,1.324],[145.9,1.324],[147,1.313],[148.2,1.299],[150.4,1.277],[152.7,1.277],[153.9,1.306],[155,1.204],[156.2,1.236],[157.7,1.332],[159.6,1.332],[160.7,1.346],[161.9,1.372],[163,1.383],[164.6,1.405],[168,1.408],[168.8,1.43],[169.9,1.43],[171,1.456],[173,1.46],[174.5,1.463],[175.2,1.474],[177.5,1.46],[178.3,1.441],[181.3,1.445],[182.9,1.471],[184.4,1.5],[186.3,1.526],[187.8,1.526],[189.4,1.533],[190.5,1.522],[191.6,1.515],[194.7,1.507],[196.6,1.515],[197.7,1.518],[198.5,1.504],[199.7,1.471],[201.9,1.463],[203.8,1.46],[205,1.493],[206.5,1.515],[209.2,1.526],[210.7,1.551],[211.9,1.555],[213,1.54],[214.5,1.533],[215.3,1.518],[218.3,1.529],[219.1,1.551],[220.6,1.489],[221.4,1.474],[222.5,1.501],[225.2,1.485],[226,1.482],[227.9,1.507],[230.6,1.518],[231.7,1.537],[233.8,1.575],[237.3,1.578],[239,1.598],[240.3,1.594],[241.2,1.582],[242.5,1.598],[244.6,1.598],[245.5,1.586],[245.9,1.794],[248.1,1.806],[249.4,1.788],[252,1.771],[252.9,1.786],[254.2,1.766],[256.3,1.784],[258.1,1.784],[261.1,1.798],[262.4,1.788],[263.3,1.819],[265,1.819],[266.3,1.842],[268.1,1.851],[272,1.845],[273.2,1.83],[275.4,1.806],[276.7,1.783],[278.9,1.778],[280.2,1.719],[282.4,1.782],[283.7,1.794],[285.8,1.794],[287.1,1.806],[289.3,1.841],[290.2,1.806],[292.8,1.806],[294.1,1.774],[295.4,1.704],[296.2,1.721],[297.9,1.655],[299.7,1.655],[302.3,1.712],[304.9,1.786],[307.1,1.786],[308.4,1.749],[309.7,1.766],[310.5,1.806],[311.4,1.806],[312.3,1.775],[314,1.775],[316.6,1.737],[317.5,1.688],[321.4,1.688],[322.2,1.68],[323.1,1.7],[324.4,1.7],[325.3,1.686],[326.1,1.717],[327.9,1.717],[329.2,1.745],[331.3,1.778],[332.6,1.794],[334.8,1.794],[336.5,1.823],[337.8,1.859],[340,1.888],[340.9,1.908],[343.9,1.908],[345.2,1.933],[349.1,1.933],[350.4,1.97],[352.6,1.933],[353.9,1.888],[355.6,1.888],[357.8,1.876],[360,1.868],[361.2,1.876],[363,1.876],[364.3,1.868],[365,1.876]];

var y2025=[[0,1.0],[0.8,1.015],[2,1.025],[3.6,1.025],[4.9,0.982],[6.1,1.006],[7,0.996],[8.3,0.958],[8.9,0.944],[10.8,0.944],[12,0.902],[13.3,0.909],[15.2,0.925],[16.1,0.939],[18.3,0.951],[19.5,0.939],[20.8,0.918],[22,0.902],[23.3,0.892],[25.2,0.868],[26.7,0.85],[27.6,0.871],[29.5,0.887],[30.8,0.904],[32,0.897],[32.9,0.887],[34.5,0.899],[35.1,0.906],[38.3,0.906],[39.5,0.892],[40.8,0.85],[42,0.833],[43.3,0.826],[44.5,0.788],[45.8,0.786],[47,0.769],[48,0.752],[48.9,0.774],[49.8,0.793],[50.7,0.788],[52.9,0.786],[55.1,0.771],[56.4,0.767],[57.6,0.745],[58.9,0.731],[60.7,0.731],[62,0.715],[63.2,0.722],[65.1,0.755],[66.4,0.764],[67.6,0.764],[68.9,0.745],[70.7,0.736],[72.6,0.726],[75.1,0.726],[76,0.719],[77.6,0.762],[78.8,0.769],[80.1,0.786],[81.3,0.783],[82.6,0.793],[83.8,0.781],[85.1,0.764],[86.3,0.757],[89.4,0.757],[91,0.769],[92.8,0.79],[94.8,0.772],[96.2,0.772],[97.2,0.725],[98.7,0.751],[100.1,0.738],[101.6,0.759],[103,0.759],[105,0.78],[106.9,0.79],[109.8,0.79],[111.8,0.821],[113.7,0.836],[115.2,0.803],[116.6,0.803],[118.6,0.813],[120.5,0.798],[122.4,0.792],[124.4,0.795],[125.4,0.803],[126.8,0.769],[128.8,0.754],[130.2,0.741],[131.2,0.743],[132.2,0.795],[133.6,0.808],[134.6,0.829],[136,0.847],[137.5,0.852],[141.4,0.852],[145.3,0.849],[149.1,0.86],[153,0.862],[155,0.87],[155.9,0.878],[157.4,0.906],[160.8,0.916],[162.3,0.906],[166.6,0.924],[168.6,0.906],[170,0.885],[171.5,0.898],[173.4,0.906],[176.3,0.922],[180.7,0.919],[181.7,0.929],[183.6,0.906],[185.1,0.916],[188,0.919],[191.9,0.934],[194.8,0.932],[196.7,0.945],[198.7,0.937],[201.1,0.934],[202.6,0.927],[204.5,0.914],[206.4,0.896],[208.4,0.893],[209.8,0.875],[211.3,0.883],[213.2,0.867],[216.2,0.87],[217.6,0.86],[220,0.847],[223,0.852],[225.9,0.847],[228.6,0.849],[230.2,0.867],[232,0.88],[236.5,0.883],[237.4,0.888],[238.8,0.873],[240.1,0.862],[241.5,0.852],[243.3,0.852],[245.1,0.862],[246.4,0.878],[248.2,0.888],[250.5,0.891],[255.4,0.893],[257.3,0.896],[258.6,0.909],[260,0.914],[261.8,0.916],[262.7,0.922],[264,0.919],[266.3,0.909],[267.6,0.898],[269,0.88],[270.8,0.88],[272.6,0.883],[274.4,0.898],[276.2,0.906],[278.9,0.903],[280.7,0.898],[282.1,0.888],[283.4,0.901],[285.2,0.901],[287,0.875],[288.4,0.893],[291.5,0.893],[293.3,0.898],[295.1,0.906],[298.7,0.91],[300.5,0.914],[303.2,0.919],[305.9,0.92],[307.3,0.927],[308.6,0.919],[310,0.901],[312.3,0.898],[315,0.891],[318.6,0.888],[321.3,0.888],[323.1,0.878],[325.8,0.867],[327.6,0.847],[329.4,0.862],[331.2,0.865],[334.3,0.857],[336.6,0.842],[341.6,0.842],[342.5,0.821],[344.3,0.826],[346.1,0.842],[348.8,0.844],[351,0.831],[353.7,0.831],[357.3,0.842],[361,0.839],[363.2,0.839],[365,0.831]];

// labelled years and where their (repelled) tags sit
var labelYears=["2021","2017","2019","2025","2018"];
var labelValues=[2.197,2.045,0.903,0.778,0.625];

// drawing order: faint first, highlighted last
var seriesYears=["2015","2016","2020","2022","2023","2024","2018","2019","2017","2021","2025"];
var seriesData={"2015":y2015,"2016":y2016,"2017":y2017,"2018":y2018,"2019":y2019,"2020":y2020,"2021":y2021,"2022":y2022,"2023":y2023,"2024":y2024,"2025":y2025};
var lineStyle={
  "2015":{color:"#ecedd2",width:2.5},
  "2016":{color:"#e2e3c6",width:2.5},
  "2020":{color:"#7a7a66",width:2.8},
  "2022":{color:"#4b4a40",width:3.3},
  "2023":{color:"#2e2e29",width:3.5},
  "2024":{color:"#161614",width:3.5},
  "2018":{color:"#8b0000",width:8},
  "2019":{color:"#8b0000",width:8},
  "2017":{color:"#006400",width:8.5},
  "2021":{color:"#006400",width:8.5},
  "2025":{color:"#000000",width:12}
};

var W=3600, H=1800;
var plotLeft=200, plotRight=3556, plotTop=181, plotBottom=1497;

var svg=d3.select("#chart").attr("width",W).attr("height",H);
svg.append("rect").attr("width",W).attr("height",H).attr("fill","#d5e4eb");

var x=d3.scaleLinear().domain([0,365]).range([plotLeft,plotRight]);
var y=d3.scaleLinear().domain([0.485,2.26]).range([plotBottom,plotTop]);

// grid
svg.append("g").selectAll("line")
  .data(yTicks).enter().append("line")
  .attr("x1",plotLeft).attr("x2",plotRight)
  .attr("y1",function(d){return y(d);})
  .attr("y2",function(d){return y(d);})
  .attr("stroke","#ffffff").attr("stroke-width",8);

// y tick labels
svg.append("g").selectAll("text")
  .data(yTicks).enter().append("text")
  .attr("x",153).attr("y",function(d){return y(d);})
  .attr("dy","0.35em").attr("text-anchor","end")
  .attr("font-size",44).attr("fill","#000")
  .text(function(d){return d3.format(".1f")(d);});

// x axis
var xAxis=d3.axisBottom(x)
  .tickValues(tickDays)
  .tickFormat(function(d,i){return tickLabels[i];})
  .tickSizeInner(-20).tickSizeOuter(0);
var gx=svg.append("g").attr("transform","translate(0,"+plotBottom+")").call(xAxis);
gx.select(".domain").attr("stroke","#000").attr("stroke-width",4);
gx.selectAll(".tick line").attr("stroke","#000").attr("stroke-width",3);
gx.selectAll(".tick text")
  .attr("font-size",44).attr("font-family","DejaVu Sans").attr("fill","#000")
  .attr("transform","rotate(-90)")
  .attr("text-anchor","end")
  .attr("x",-46).attr("y",0).attr("dy","0.35em");

// y axis title
svg.append("text")
  .attr("transform","translate(79,839) rotate(-90)")
  .attr("text-anchor","middle").attr("font-size",44).attr("fill","#000")
  .text("growth of Rs. 1");

// watermark
svg.append("text")
  .attr("x",200).attr("y",1438)
  .attr("font-size",70).attr("font-weight","bold")
  .attr("fill","#ffffff").attr("fill-opacity",0.8)
  .text("@StockViz");

// lines
var line=d3.line()
  .x(function(d){return x(d[0]);})
  .y(function(d){return y(d[1]);});

svg.append("g").selectAll("path")
  .data(seriesYears).enter().append("path")
  .attr("d",function(k){return line(seriesData[k]);})
  .attr("fill","none")
  .attr("stroke",function(k){return lineStyle[k].color;})
  .attr("stroke-width",function(k){return lineStyle[k].width;})
  .attr("stroke-linejoin","round")
  .attr("stroke-linecap","butt");

// year tags
var tagW=147, tagH=64, tagRight=3538;
var tags=svg.append("g").selectAll("g")
  .data(labelYears).enter().append("g")
  .attr("transform",function(d,i){return "translate("+(tagRight-tagW/2)+","+y(labelValues[i])+")";});
tags.append("rect")
  .attr("x",-tagW/2).attr("y",-tagH/2)
  .attr("width",tagW).attr("height",tagH)
  .attr("rx",9).attr("ry",9)
  .attr("fill","#ffffff").attr("fill-opacity",0.5)
  .attr("stroke","#777777").attr("stroke-width",2.5);
tags.append("text")
  .attr("text-anchor","middle").attr("dy","0.36em")
  .attr("font-size",44).attr("fill","#777777")
  .text(function(d){return d;});

// titles
svg.append("text")
  .attr("x",200).attr("y",107)
  .attr("font-size",69).attr("font-weight","bold").attr("fill","#000")
  .text("Residential Commercial Projects(EQUAL_WT)");
svg.append("text")
  .attr("x",200).attr("y",147)
  .attr("font-size",46).attr("fill","#000")
  .text("2015:2026-01-12");
</script>
</body>
</html>
